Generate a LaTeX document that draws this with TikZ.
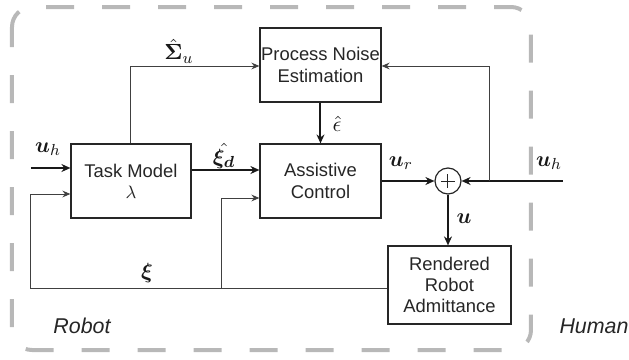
\documentclass[tikz,border=0pt]{standalone}
\usepackage{amsmath,bm}
\usepackage{fontspec}
\setmainfont{Liberation Sans}
\usetikzlibrary{arrows.meta,calc}
\begin{document}
\begin{tikzpicture}[x=0.5pt,y=-0.5pt,
  blk/.style={draw=black!85,line width=0.6pt,fill=white,align=center,text=black!85,
    font=\fontsize{9.2}{10.6}\selectfont,inner sep=0pt},
  thin/.style={draw=black!75,line width=0.5pt,-{Stealth[length=4pt,width=3.4pt]}},
  thick/.style={draw=black!90,line width=1pt,-{Stealth[length=4.5pt,width=4pt]}},
  lbl/.style={text=black!90,inner sep=0pt,font=\fontsize{11}{12}\selectfont},
  side/.style={text=black!85,inner sep=0pt,font=\fontsize{10.7}{12}\selectfont\itshape},
  border/.style={draw=black!28,line width=2pt,dash pattern=on 14pt off 14pt,dash phase=4pt,rounded corners=10pt}]
\useasboundingbox (0,0) rectangle (629,360);
\draw[border] (12,7) rectangle (531,350);
\node[blk,minimum width=60.5pt,minimum height=37pt] (pne) at (320.5,65) {Process Noise\\Estimation};
\node[blk,minimum width=60.5pt,minimum height=37pt] (ac) at (320.5,181) {Assistive\\Control};
\node[blk,minimum width=60pt,minimum height=37pt] (tm) at (131,181) {Task Model\\$\lambda$};
\node[blk,minimum width=61.5pt,minimum height=39pt] (rra) at (449.5,285) {Rendered\\Robot\\Admittance};
\node[draw=black!85,line width=0.6pt,circle,minimum size=13pt,inner sep=0pt] (sum) at (448,181) {};
\draw[black!85,line width=0.5pt] ($(sum.center)+(-7,0)$) -- ($(sum.center)+(7,0)$)
  ($(sum.center)+(0,-7)$) -- ($(sum.center)+(0,7)$);
\coordinate (uhin) at (31,168);
\coordinate (uhr) at (563,181);
\coordinate (j) at (490,181);
\coordinate (fbl) at (31,288);
\coordinate (fbm) at (222,288);
\coordinate (sig) at (131,66);
% connectors
\draw[thick] (uhin) -- (uhin -| tm.west);
\draw[thin] (tm.north) -- (sig) -- (sig -| pne.west);
\draw[thick] ($(tm.east)+(0,-11)$) -- ($(ac.west)+(0,-11)$);
\draw[thick] (pne.south) -- (ac.north);
\draw[thick] (ac.east) -- (sum.west);
\draw[thick] (uhr) -- (sum.east);
\draw[thin] (j) -- (j |- sig) -- ($(pne.east)+(0,1)$);
\draw[thick] (sum.south) -- (sum |- rra.north);
\draw[thin] (rra.west |- fbl) -- (fbl) -- (31,194) -- (tm.west |- 0,194);
\draw[thin] (fbm) -- (222,198) -- (ac.west |- 0,198);
% labels
\node[lbl] (l1) at (48,149) {$\bm{u}_h$};
\node[lbl] (l2) at (179,51) {$\hat{\bm{\Sigma}}_u$};
\node[lbl] (l3) at (224,156) {$\hat{\bm{\xi}_{\bm d}}$};
\node[lbl] (l4) at (337,124) {$\hat{\epsilon}$};
\node[lbl] (l5) at (401,163) {$\bm{u}_r$};
\node[lbl] (l6) at (549,163) {$\bm{u}_h$};
\node[lbl] (l7) at (464,219) {$\bm{u}$};
\node[lbl] (l8) at (147,273) {$\bm{\xi}$};
\node[side] (rob) at (82,326) {Robot};
\node[side] (hum) at (594,326) {Human};
\end{tikzpicture}
\end{document}
